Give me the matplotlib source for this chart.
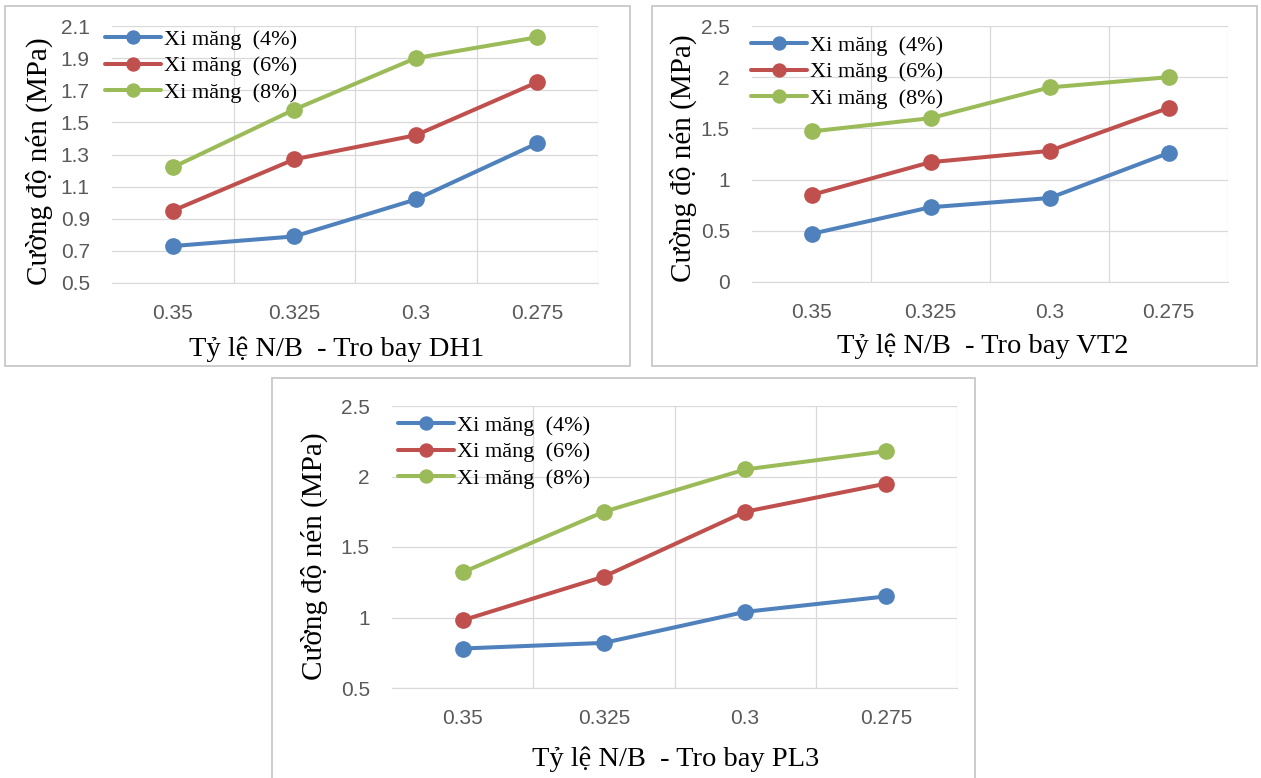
import matplotlib
matplotlib.use("Agg")
import matplotlib.pyplot as plt
from matplotlib.patches import Rectangle

W, H = 1261, 778

categories = ["0.35", "0.325", "0.3", "0.275"]
series_names = ["Xi măng  (4%)", "Xi măng  (6%)", "Xi măng  (8%)"]
colors = ["#4F81BD", "#C0504D", "#9BBB59"]

dh1_4 = [0.73, 0.79, 1.02, 1.37]
dh1_6 = [0.95, 1.27, 1.42, 1.75]
dh1_8 = [1.22, 1.58, 1.90, 2.03]

vt2_4 = [0.47, 0.73, 0.82, 1.26]
vt2_6 = [0.85, 1.17, 1.28, 1.70]
vt2_8 = [1.47, 1.60, 1.90, 2.00]

pl3_4 = [0.78, 0.82, 1.04, 1.15]
pl3_6 = [0.98, 1.29, 1.75, 1.95]
pl3_8 = [1.32, 1.75, 2.05, 2.18]

yticks_dh1 = [0.5, 0.7, 0.9, 1.1, 1.3, 1.5, 1.7, 1.9, 2.1]
yticks_vt2 = [0, 0.5, 1, 1.5, 2, 2.5]
yticks_pl3 = [0.5, 1, 1.5, 2, 2.5]

serif = "Liberation Serif"
tickfont = "Liberation Sans"


def frac(x0, y0, x1, y1):
    # pixel box -> figure fraction [left, bottom, width, height]
    return [x0 / W, 1 - y1 / H, (x1 - x0) / W, (y1 - y0) / H]


def panel(fig, box, border, series, yticks, ylabel_pos, xlabel, xlabel_pos, leg_anchor):
    bx0, by0, bx1, by1 = border
    fig.patches.append(Rectangle((bx0 / W, 1 - by1 / H), (bx1 - bx0) / W, (by1 - by0) / H,
                                 transform=fig.transFigure, fill=False,
                                 edgecolor="#C8C8C8", lw=1.3))
    ax = fig.add_axes(frac(*box))
    x = list(range(len(categories)))
    for vals, name, c in zip(series, series_names, colors):
        ax.plot(x, vals, color=c, lw=2.9, marker="o", ms=11, label=name,
                solid_capstyle="round", zorder=3)
    ax.set_xlim(-0.5, len(categories) - 0.5)
    ax.set_ylim(yticks[0], yticks[-1])
    ax.set_yticks(yticks)
    ax.set_yticklabels([f"{t:g}" for t in yticks])
    ax.set_xticks(x)
    ax.set_xticklabels(categories)
    ax.set_xticks([0.5, 1.5, 2.5, 3.5], minor=True)
    ax.grid(True, axis="y", color="#D9D9D9", lw=0.9)
    ax.grid(True, axis="x", which="minor", color="#D9D9D9", lw=0.9)
    ax.tick_params(axis="both", which="both", length=0, colors="#595959",
                   labelsize=15)
    ax.tick_params(axis="x", pad=15)
    ax.tick_params(axis="y", pad=16)
    for lab in ax.get_xticklabels() + ax.get_yticklabels():
        lab.set_fontfamily(tickfont)
    for s in ["top", "right", "left"]:
        ax.spines[s].set_visible(False)
    ax.spines["bottom"].set_color("#D9D9D9")
    ax.set_axisbelow(True)
    fig.text(ylabel_pos[0] / W, 1 - ylabel_pos[1] / H, "Cường độ nén (MPa)", rotation=90,
             ha="center", va="center", fontsize=21, family=serif)
    fig.text(xlabel_pos[0] / W, 1 - xlabel_pos[1] / H, xlabel,
             ha="center", va="center", fontsize=20.5, family=serif)
    ax.legend(loc="upper left", bbox_to_anchor=leg_anchor, frameon=False,
              prop={"family": serif, "size": 16}, handlelength=2.5,
              handletextpad=0.15, labelspacing=0.28, borderpad=0,
              borderaxespad=0, markerscale=0.85)
    return ax


fig = plt.figure(figsize=(W / 100, H / 100), dpi=100)

panel(fig, (112, 26, 598, 283), (5, 6, 630, 366), [dh1_4, dh1_6, dh1_8], yticks_dh1,
      (39, 161), "Tỷ lệ N/B  - Tro bay DH1", (337, 349), (-0.014, 0.988))
panel(fig, (752, 26, 1228, 282), (652, 6, 1257, 366), [vt2_4, vt2_6, vt2_8], yticks_vt2,
      (683, 158), "Tỷ lệ N/B  - Tro bay VT2", (983, 346), (-0.002, 0.965))
panel(fig, (392, 406, 957, 688), (272, 378, 975, 790), [pl3_4, pl3_6, pl3_8], yticks_pl3,
      (314, 556), "Tỷ lệ N/B  - Tro bay PL3", (676, 759), (0.011, 0.968))

fig.savefig("out.png", dpi=100)
